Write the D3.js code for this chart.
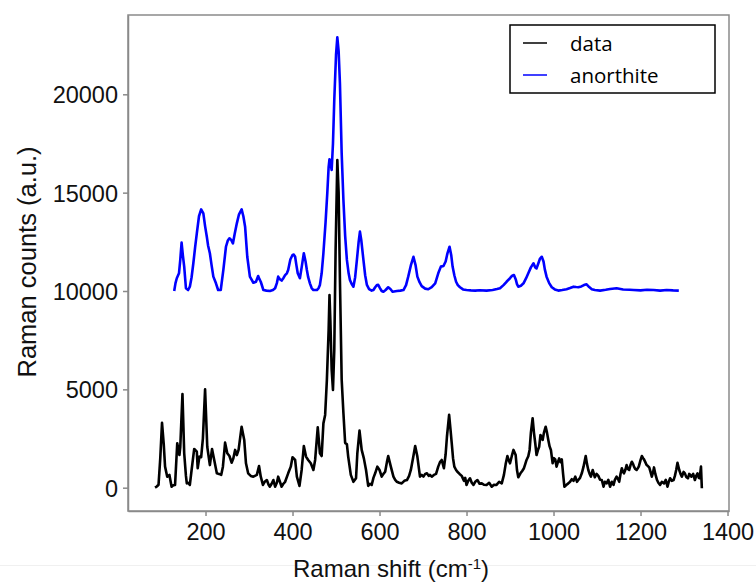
<!DOCTYPE html>
<html>
<head>
<meta charset="utf-8">
<script src="https://cdn.jsdelivr.net/npm/d3@7"></script>
<style>
  html, body { margin: 0; padding: 0; background: #fff; }
  svg { display: block; }
</style>
</head>
<body>
<svg id="chart" width="756" height="583"></svg>
<script>
// ---- data ----
const dataShift = [84,88,92,96,100,104,107,112,117,122,126,130,135,140,142,147,151,155,157,160,164,168,174,180,182,186,190,194,199,204,210,215,220,226,231,236,240,245,250,255,260,264,268,272,276,283,289,293,298,304,310,318,323,327,332,336,341,345,348,352,356,360,364,367,371,375,379,383,390,396,400,406,410,416,421,426,431,436,442,448,452,458,463,467,471,475,479,483,485,487,490,493,496,499,503,506,509,513,517,521,525,528,534,540,546,549,554,559,564,569,574,578,582,586,590,595,600,605,609,613,617,620,626,632,636,640,645,651,657,663,668,672,677,682,687,693,697,701,705,709,713,716,720,725,730,735,739,743,748,752,755,760,763,766,769,772,776,779,784,789,794,797,800,804,808,812,816,820,825,830,835,840,846,852,858,863,869,875,881,886,890,894,897,900,904,908,913,916,919,924,928,932,935,938,942,945,948,952,955,958,961,964,967,970,973,975,978,982,985,988,991,994,998,1001,1004,1007,1010,1013,1016,1019,1022,1025,1030,1034,1038,1042,1046,1050,1054,1057,1061,1065,1069,1074,1077,1080,1083,1086,1090,1095,1099,1103,1107,1111,1115,1118,1122,1126,1130,1134,1138,1141,1145,1148,1151,1154,1157,1160,1162,1165,1168,1171,1174,1177,1180,1183,1185,1188,1191,1194,1196,1200,1203,1206,1208,1211,1214,1217,1220,1223,1226,1229,1231,1234,1238,1241,1245,1249,1254,1258,1262,1265,1268,1272,1276,1279,1282,1285,1289,1292,1295,1299,1302,1305,1309,1312,1317,1321,1325,1328,1331,1334,1336,1339,1341];
const dataCounts = [0,60,150,1500,3300,2200,1070,560,650,50,120,140,2260,1660,2080,4760,1750,600,220,250,140,900,1970,1830,990,1580,1550,2510,5000,2080,1150,1970,1410,730,700,650,1070,2290,1750,1610,1270,1500,1920,1660,1920,3100,2430,1240,730,600,560,650,1100,560,140,300,390,150,50,200,390,50,250,560,300,50,200,300,730,1070,1550,1410,560,90,900,2120,1580,1410,1240,900,1410,3070,1750,1610,3270,3700,5480,8000,9800,8500,6000,4970,7000,12000,16660,15000,10550,5500,3800,2270,2220,1580,650,300,480,1750,2900,1920,1490,900,90,200,140,500,730,1070,900,560,700,810,1300,1610,1070,560,400,300,250,220,350,390,600,900,1500,2120,1580,560,650,560,700,730,600,650,560,650,700,1070,1300,1410,990,1700,2590,3700,3000,2260,1500,1070,900,810,700,600,350,500,140,350,480,250,140,300,390,200,220,150,140,250,50,150,140,300,220,650,1200,1610,1400,1240,1600,1920,1660,900,530,730,850,990,1200,1410,1600,1920,2800,3530,2800,2260,1660,1900,2080,2680,2500,2430,2800,3100,2800,2430,2100,1920,1240,1500,1440,1070,1300,1490,1300,1440,700,50,150,220,300,430,350,560,300,390,500,730,1070,1610,1200,900,700,560,900,530,700,600,400,390,50,300,220,400,50,300,140,400,560,450,300,700,990,800,730,900,1150,950,900,1150,1320,1200,1070,950,900,1000,1070,1400,1610,1500,1440,1300,1150,1100,1030,800,560,800,1030,700,390,250,140,300,220,400,50,300,480,350,390,600,900,1270,900,700,560,800,730,550,480,700,560,700,390,600,730,500,480,1070,-30];

const anoShift = [128,131,134,139,142,145,148,151,155,160,164,168,172,176,180,185,190,195,199,203,206,210,214,218,224,229,235,241,247,251,255,259,263,267,272,277,283,287,291,296,302,310,316,321,324,327,333,340,348,355,360,364,367,371,375,379,383,387,390,395,400,403,406,409,412,417,421,426,430,433,436,440,444,448,456,460,463,467,471,476,480,483,485,488,490,493,496,500,503,506,509,513,517,521,525,529,532,536,540,544,548,552,555,558,563,567,571,576,582,586,590,594,597,601,605,609,614,620,625,630,640,648,655,661,666,672,678,683,687,692,697,705,712,720,728,735,741,747,752,756,761,765,768,772,776,780,785,792,800,810,820,830,846,860,870,877,885,892,900,905,909,913,916,919,925,931,937,942,948,954,958,961,965,969,973,977,980,984,990,996,1003,1011,1020,1030,1038,1046,1052,1057,1064,1070,1076,1082,1088,1095,1107,1120,1130,1145,1160,1175,1184,1200,1215,1230,1245,1260,1275,1288];
const anoCounts = [10000,10400,10650,10900,11600,12460,11800,11240,10140,10050,10220,10700,11410,12200,12930,13800,14150,13950,13300,12760,12300,11920,11300,10730,10390,10050,10050,11070,12250,12550,12680,12600,12420,12900,13440,13900,14150,13800,13270,11740,10730,10420,10470,10760,10600,10470,10050,10020,10000,10050,10140,10400,10730,10600,10530,10650,10810,10900,11070,11600,11830,11850,11740,11300,10900,10650,11200,11920,11500,11070,10700,10390,10150,10050,10050,10150,10310,10900,11920,13500,15000,16300,16700,16400,16150,17500,19710,22000,22900,22200,20560,17000,14630,12800,11580,10900,10560,10350,10220,10700,11580,12500,13020,12600,11580,10800,10310,10100,10020,10050,10190,10300,10310,10150,10000,9960,10050,10190,10100,9960,10000,10020,10050,10300,10730,11300,11740,11300,10730,10450,10250,10120,10090,10200,10390,10900,11240,11270,11500,11900,12250,11800,11240,10800,10470,10300,10190,10080,10050,10030,10020,10040,10020,10050,10100,10140,10300,10470,10650,10780,10810,10600,10350,10220,10270,10390,10650,10900,11200,11410,11200,11150,11400,11650,11740,11500,11100,10730,10400,10190,10080,10020,10050,10090,10150,10220,10200,10190,10230,10300,10340,10200,10090,10050,10020,10060,10100,10140,10080,10060,10050,10030,10060,10050,10020,10050,10030,10020];

const xTicks = [200, 400, 600, 800, 1000, 1200, 1400];
const yTicks = [0, 5000, 10000, 15000, 20000];
const seriesNames = ["data", "anorthite"];
const seriesColors = ["#000000", "#0000ff"];

// ---- layout ----
const svg = d3.select("#chart");
const plot = { left: 128, right: 729, top: 15, bottom: 511 };
const x = d3.scaleLinear().domain([21.8, 1403.4]).range([plot.left, plot.right]);
const y = d3.scaleLinear().domain([-1185, 24032]).range([plot.bottom, plot.top]);

const tickFont = "'Liberation Sans', Arial, sans-serif";

// faint figure separator line
svg.append("line")
  .attr("x1", 0).attr("x2", 756).attr("y1", 565.5).attr("y2", 565.5)
  .attr("stroke", "#f0f0f0").attr("stroke-width", 1);

// frame
svg.append("rect")
  .attr("x", plot.left).attr("y", plot.top)
  .attr("width", plot.right - plot.left).attr("height", plot.bottom - plot.top)
  .attr("fill", "none").attr("stroke", "#8a8a8a").attr("stroke-width", 1.5);

// axes
const fmt = d3.format("d");
const xAxis = d3.axisBottom(x).tickValues(xTicks).tickFormat(fmt).tickSize(5).tickSizeOuter(0).tickPadding(3);
const yAxis = d3.axisLeft(y).tickValues(yTicks).tickFormat(fmt).tickSize(5).tickSizeOuter(0).tickPadding(5);

const gx = svg.append("g").attr("transform", `translate(0,${plot.bottom})`).call(xAxis);
const gy = svg.append("g").attr("transform", `translate(${plot.left},0)`).call(yAxis);
[gx, gy].forEach(g => {
  g.select(".domain").attr("stroke", "#8a8a8a").attr("stroke-width", 1.5);
  g.selectAll(".tick line").attr("stroke", "#8a8a8a").attr("stroke-width", 1.5);
  g.selectAll(".tick text")
    .attr("font-family", tickFont).attr("font-size", 23.5).attr("fill", "#111");
});
gx.selectAll(".tick text").attr("dy", "0.9em");
gy.selectAll(".tick text").attr("dy", "0.36em");

// lines
const line = d3.line().x(d => x(d[0])).y(d => y(d[1]));
const dataPts = dataShift.map((s, i) => [s, dataCounts[i]]);
const anoPts = anoShift.map((s, i) => [s, anoCounts[i]]);

svg.append("path").datum(anoPts)
  .attr("d", line).attr("fill", "none")
  .attr("stroke", seriesColors[1]).attr("stroke-width", 2.6)
  .attr("stroke-linejoin", "round");
svg.append("path").datum(dataPts)
  .attr("d", line).attr("fill", "none")
  .attr("stroke", seriesColors[0]).attr("stroke-width", 2.6)
  .attr("stroke-linejoin", "round");

// axis titles
svg.append("text")
  .attr("x", 391).attr("y", 577)
  .attr("text-anchor", "middle")
  .attr("font-family", tickFont).attr("font-size", 24).attr("fill", "#111")
  .call(t => {
    t.append("tspan").text("Raman shift (cm");
    t.append("tspan").attr("baseline-shift", "super").attr("font-size", 15).text("-1");
    t.append("tspan").text(")");
  });

svg.append("text")
  .attr("transform", "translate(36,262) rotate(-90)")
  .attr("text-anchor", "middle")
  .attr("font-family", tickFont).attr("font-size", 25.5).attr("fill", "#111")
  .text("Raman counts (a.u.)");

// legend
const lg = svg.append("g");
lg.append("rect")
  .attr("x", 510).attr("y", 25).attr("width", 205).attr("height", 68)
  .attr("fill", "#fff").attr("stroke", "#000").attr("stroke-width", 1.5);
seriesNames.forEach((name, i) => {
  const yy = 43 + i * 32;
  lg.append("line")
    .attr("x1", 523).attr("x2", 547).attr("y1", yy).attr("y2", yy)
    .attr("stroke", seriesColors[i]).attr("stroke-width", 1.5);
  lg.append("text")
    .attr("x", 570).attr("y", yy + 8)
    .attr("font-family", "'Open Sans', 'Noto Sans', sans-serif")
    .attr("font-size", 20.5).attr("fill", "#000")
    .text(name);
});
</script>
</body>
</html>
